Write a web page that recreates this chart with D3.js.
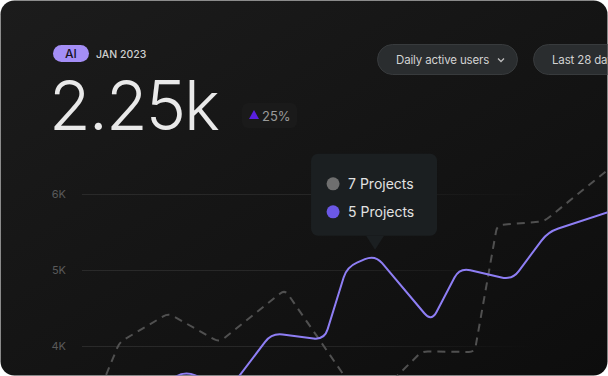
<!DOCTYPE html>
<html>
<head>
<meta charset="utf-8">
<script src="https://cdn.jsdelivr.net/npm/d3@7"></script>
<style>
  html, body { margin: 0; padding: 0; background: #ffffff; }
  svg { display: block; font-family: Inter, "Noto Sans", sans-serif; }
</style>
</head>
<body>
<div id="plot"></div>
<script>
// chart size
const width = 608;
const height = 376;

// y axis ticks (thousands)
const yTicks = [4000, 5000, 6000];

// 5 Projects series (purple) - day of period, value
const projects5Days = [3.6, 5.5, 7.8, 10.1, 12.9, 14.1, 15.6, 18.6, 20.1, 22.9, 24.8, 28];
const projects5Values = [3400, 3670, 3420, 4170, 4080, 5040, 5200, 4320, 5030, 4870, 5500, 5760];

// 7 Projects series (grey, dashed)
const projects7Days = [1.0, 2.0, 4.6, 7.3, 10.8, 15.1, 18.1, 20.9, 22.1, 24.6, 28];
const projects7Values = [3450, 4050, 4430, 4050, 4740, 3200, 3930, 3920, 5590, 5640, 6320];

// header texts
const tagLabel = "AI";
const periodLabel = "JAN 2023";
const bigValue = "2.25k";
const changeLabel = "25%";
const metricLabel = "Daily active users";
const rangeLabel = "Last 28 days";

// tooltip entries
const tooltipItems = ["7 Projects", "5 Projects"];
const tooltipColors = ["#6f6f6f", "#6b58e6"];
const tooltipIndex = 6; // point of the purple series the tooltip points to

// straight segments with rounded corners
function roundedCurve(radius) {
    return function(context) {
        let pts = [];
        return {
            areaStart() {},
            areaEnd() {},
            lineStart() { pts = []; },
            point(px, py) { pts.push([+px, +py]); },
            lineEnd() {
                if (!pts.length) return;
                context.moveTo(pts[0][0], pts[0][1]);
                for (let i = 1; i < pts.length - 1; i++) {
                    const a = pts[i - 1], p = pts[i], b = pts[i + 1];
                    const d1 = Math.hypot(a[0] - p[0], a[1] - p[1]);
                    const d2 = Math.hypot(b[0] - p[0], b[1] - p[1]);
                    const r = Math.min(radius, d1 / 2, d2 / 2);
                    const q1 = [p[0] + (a[0] - p[0]) * r / d1, p[1] + (a[1] - p[1]) * r / d1];
                    const q2 = [p[0] + (b[0] - p[0]) * r / d2, p[1] + (b[1] - p[1]) * r / d2];
                    context.lineTo(q1[0], q1[1]);
                    context.quadraticCurveTo(p[0], p[1], q2[0], q2[1]);
                }
                const last = pts[pts.length - 1];
                context.lineTo(last[0], last[1]);
            }
        };
    };
}

const svg = d3.select("#plot")
    .append("svg")
    .attr("width", width)
    .attr("height", height);

const defs = svg.append("defs");

// card background gradient
const bg = defs.append("linearGradient")
    .attr("id", "cardBg")
    .attr("x1", "0").attr("y1", "0").attr("x2", "1").attr("y2", "1");
bg.append("stop").attr("offset", "0%").attr("stop-color", "#1c1c1c");
bg.append("stop").attr("offset", "100%").attr("stop-color", "#0d0d0d");

// grid line fade to the right
const gridGrad = defs.append("linearGradient")
    .attr("id", "gridFade")
    .attr("gradientUnits", "userSpaceOnUse")
    .attr("x1", 82).attr("x2", 535).attr("y1", 0).attr("y2", 0);
gridGrad.append("stop").attr("offset", "0%").attr("stop-color", "#2a2a2a");
gridGrad.append("stop").attr("offset", "50%").attr("stop-color", "#262626");
gridGrad.append("stop").attr("offset", "100%").attr("stop-color", "#262626").attr("stop-opacity", 0);

defs.append("clipPath").attr("id", "cardClip")
    .append("rect")
    .attr("x", 0.5).attr("y", 0.5)
    .attr("width", width - 1).attr("height", height - 1)
    .attr("rx", 14);

svg.append("rect")
    .attr("x", 0.5).attr("y", 0.5)
    .attr("width", width - 1).attr("height", height - 1)
    .attr("rx", 14)
    .attr("fill", "url(#cardBg)");

const card = svg.append("g").attr("clip-path", "url(#cardClip)");

// scales
const x = d3.scaleLinear().domain([0, 28]).range([82, 608]);
const y = d3.scaleLinear().domain([4000, 6000]).range([346, 194]);

// grid + y labels
const yAxis = d3.axisLeft(y)
    .tickValues(yTicks)
    .tickSize(0)
    .tickPadding(16)
    .tickFormat(d => (d / 1000) + "K");

const axisG = card.append("g")
    .attr("transform", "translate(82,0)")
    .call(yAxis);
axisG.select(".domain").remove();
axisG.selectAll("text")
    .attr("fill", "#5a5a5a")
    .attr("font-size", 11)
    .attr("font-family", "Inter, sans-serif");

card.append("g")
    .selectAll("line")
    .data(yTicks)
    .enter()
    .append("line")
    .attr("x1", 82)
    .attr("x2", 600)
    .attr("y1", d => y(d) + 0.5)
    .attr("y2", d => y(d) + 0.5)
    .attr("stroke", "url(#gridFade)")
    .attr("stroke-width", 1);

// lines
const dashedLine = d3.line()
    .x(d => x(d[0]))
    .y(d => y(d[1]))
    .curve(roundedCurve(6));

const purpleLine = d3.line()
    .x(d => x(d[0]))
    .y(d => y(d[1]))
    .curve(roundedCurve(11));

const dashedData = d3.zip(projects7Days, projects7Values);
const purpleData = d3.zip(projects5Days, projects5Values);

card.append("path")
    .datum(dashedData)
    .attr("d", dashedLine)
    .attr("fill", "none")
    .attr("stroke", "#505050")
    .attr("stroke-width", 2)
    .attr("stroke-dasharray", "8,6");

card.append("path")
    .datum(purpleData)
    .attr("d", purpleLine)
    .attr("fill", "none")
    .attr("stroke", "#8e7ef4")
    .attr("stroke-width", 2)
    .attr("stroke-linejoin", "round");

// tooltip
const tipX = x(projects5Days[tooltipIndex]);
const tipY = y(projects5Values[tooltipIndex]) - 5;
const tipW = 126, tipH = 82;
const tip = card.append("g")
    .attr("transform", "translate(" + (tipX - 64) + "," + (tipY - 14 - tipH) + ")");
tip.append("rect")
    .attr("width", tipW).attr("height", tipH)
    .attr("rx", 7)
    .attr("fill", "#1b1f21");
tip.append("path")
    .attr("d", "M" + (64 - 9) + "," + tipH + "L64," + (tipH + 14) + "L" + (64 + 9) + "," + tipH + "Z")
    .attr("fill", "#1b1f21");
const tipRows = tip.selectAll("g.row")
    .data(tooltipItems)
    .enter()
    .append("g")
    .attr("class", "row")
    .attr("transform", (d, i) => "translate(22," + (30 + i * 28) + ")");
tipRows.append("circle")
    .attr("r", 6.5)
    .attr("fill", (d, i) => tooltipColors[i]);
tipRows.append("text")
    .attr("x", 15)
    .attr("y", 5)
    .attr("fill", "#e2e2e2")
    .attr("font-size", 14)
    .text(d => d);

// header: tag pill + period
card.append("rect")
    .attr("x", 53).attr("y", 45)
    .attr("width", 36).attr("height", 17)
    .attr("rx", 8.5)
    .attr("fill", "#a48ef6");
card.append("text")
    .attr("x", 71).attr("y", 58)
    .attr("text-anchor", "middle")
    .attr("fill", "#16121f")
    .attr("font-size", 12)
    .attr("font-weight", 500)
    .text(tagLabel);
card.append("text")
    .attr("x", 96).attr("y", 57.5)
    .attr("fill", "#cfcfcf")
    .attr("font-size", 10.5)
    .attr("font-weight", 500)
    .text(periodLabel);

// big number
card.append("text")
    .attr("x", 49).attr("y", 130)
    .attr("fill", "#e9e9e9")
    .attr("font-size", 68)
    .attr("font-weight", 300)
    .attr("letter-spacing", -2)
    .text(bigValue);

// change badge
card.append("rect")
    .attr("x", 242).attr("y", 103)
    .attr("width", 55).attr("height", 25)
    .attr("rx", 6)
    .attr("fill", "#1a1a1a");
card.append("path")
    .attr("d", "M249,119L254,110L259,119Z")
    .attr("fill", "#5a1fe0");
card.append("text")
    .attr("x", 262).attr("y", 120.5)
    .attr("fill", "#9a9a9a")
    .attr("font-size", 13)
    .text(changeLabel);

// dropdown pills
function pill(px, w, label, chevron) {
    const g = card.append("g");
    g.append("rect")
        .attr("x", px + 0.5).attr("y", 44.5)
        .attr("width", w).attr("height", 30)
        .attr("rx", 15)
        .attr("fill", "#2a2d2f")
        .attr("stroke", "#383b3d");
    g.append("text")
        .attr("x", px + 19).attr("y", 64)
        .attr("fill", "#d2d2d2")
        .attr("font-size", 11.5)
        .attr("letter-spacing", -0.15)
        .text(label);
    if (chevron) {
        g.append("path")
            .attr("d", "M" + (px + w - 19) + ",58.5l3,3l3,-3")
            .attr("fill", "none")
            .attr("stroke", "#bdbdbd")
            .attr("stroke-width", 1.3);
    }
}
pill(377, 140, metricLabel, true);
pill(533, 110, rangeLabel, false);
</script>
</body>
</html>
